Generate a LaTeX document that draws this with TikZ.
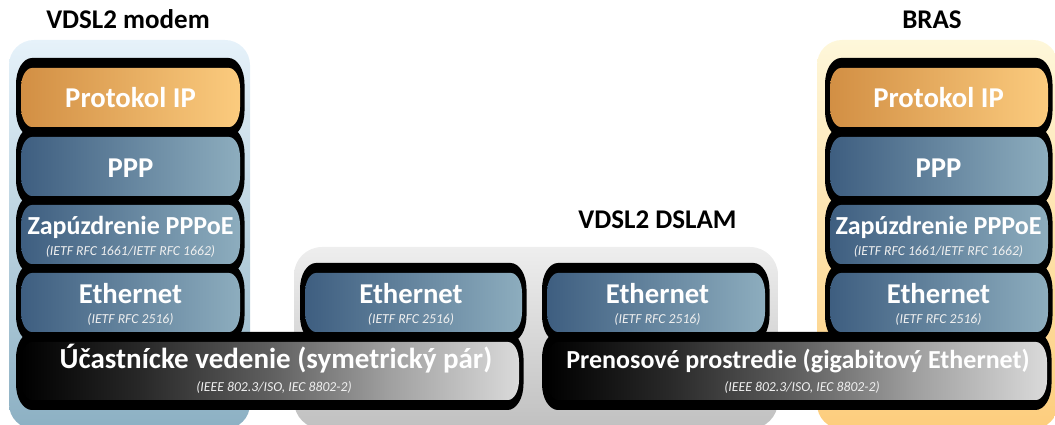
\documentclass[tikz,border=0pt]{standalone}
\usepackage{fontspec}
\setmainfont{Carlito}
\definecolor{orL}{RGB}{210,143,68}
\definecolor{orR}{RGB}{251,203,126}
\definecolor{blL}{RGB}{62,94,128}
\definecolor{blR}{RGB}{141,173,190}
\definecolor{bgbT}{RGB}{230,242,250}
\definecolor{bgbB}{RGB}{140,176,195}
\definecolor{bggT}{RGB}{238,238,238}
\definecolor{bggB}{RGB}{192,192,192}
\definecolor{bgoT}{RGB}{254,247,218}
\definecolor{bgoB}{RGB}{253,205,125}
\definecolor{phA}{RGB}{0,0,0}
\definecolor{phB}{RGB}{40,40,40}
\definecolor{phC}{RGB}{95,95,95}
\definecolor{phD}{RGB}{160,160,160}
\definecolor{phE}{RGB}{218,218,218}
\definecolor{subtext}{RGB}{240,240,240}
\pgfdeclarehorizontalshading{physshade}{100bp}{color(0bp)=(phA); color(25bp)=(phA); color(37bp)=(phB); color(50bp)=(phC); color(62bp)=(phD); color(75bp)=(phE); color(100bp)=(phE)}
% capsule-like shape with elliptical corners: x1, ytop, x2, ybot, rx, ry, options
\newcommand\capsule[7]{%
  \path[#7] (#1+#5,#2) -- (#3-#5,#2)
    arc[start angle=90,end angle=0,x radius=#5,y radius=#6] -- (#3,#4+#6)
    arc[start angle=0,end angle=-90,x radius=#5,y radius=#6] -- (#1+#5,#4)
    arc[start angle=270,end angle=180,x radius=#5,y radius=#6] -- (#1,#2-#6)
    arc[start angle=180,end angle=90,x radius=#5,y radius=#6] -- cycle;}
\newcommand\outerband[4]{\capsule{#1-5}{#2+10}{#3+4.5}{#4-10}{16}{26}{fill=black}}
\newcommand\innerband[5]{\capsule{#1}{#2}{#3}{#4}{11}{20}{#5}}
\begin{document}
\begin{tikzpicture}[x=1pt,y=1pt,
  every node/.style={inner sep=0pt},
  main/.style={font=\fontsize{28.7}{30}\selectfont\bfseries, anchor=base, text=white},
  mainsmall/.style={font=\fontsize{26}{28}\selectfont\bfseries, anchor=base, text=white},
  physleft/.style={font=\fontsize{29}{31}\selectfont\bfseries, anchor=base, text=white},
  physright/.style={font=\fontsize{26}{28}\selectfont\bfseries, anchor=base, text=white},
  sub/.style={font=\fontsize{13.7}{15}\selectfont\itshape, anchor=base, text=subtext},
  title/.style={font=\fontsize{27}{30}\selectfont\bfseries, anchor=base, text=black},
  orangefill/.style={left color=orL, right color=orR},
  bluefill/.style={left color=blL, right color=blR},
  physfill/.style={shading=physshade},
]
\useasboundingbox (0,0) rectangle (1055,425);
\clip (0,0) rectangle (1055,425);
% backgrounds
\shade[top color=bgbT, bottom color=bgbB, rounded corners=25pt] (9,-4) rectangle (250,385);
\shade[top color=bggT, bottom color=bggB, rounded corners=28pt] (294,-4) rectangle (778,178);
\shade[top color=bgoT, bottom color=bgoB, rounded corners=25pt] (817,-4) rectangle (1058,385);
% black outlines
\outerband{21}{357}{240}{298}
\outerband{21}{288}{240}{229}
\outerband{21}{220}{240}{161}
\outerband{21}{152}{240}{93}
\outerband{21}{83}{519}{25}
\outerband{305}{152}{522}{93}
\outerband{547}{152}{765}{93}
\outerband{547}{83}{1047}{25}
\outerband{830}{357}{1048}{298}
\outerband{830}{288}{1048}{229}
\outerband{830}{220}{1048}{161}
\outerband{830}{152}{1048}{93}
% coloured layers
\innerband{21}{357}{240}{298}{orangefill}
\innerband{21}{288}{240}{229}{bluefill}
\innerband{21}{220}{240}{161}{bluefill}
\innerband{21}{152}{240}{93}{bluefill}
\innerband{21}{83}{519}{25}{physfill}
\innerband{305}{152}{522}{93}{bluefill}
\innerband{547}{152}{765}{93}{bluefill}
\innerband{547}{83}{1047}{25}{physfill}
\innerband{830}{357}{1048}{298}{orangefill}
\innerband{830}{288}{1048}{229}{bluefill}
\innerband{830}{220}{1048}{161}{bluefill}
\innerband{830}{152}{1048}{93}{bluefill}
% titles
\node[title] (tmodem) at (128,396.7) {VDSL2 modem};
\node[title] (tbras) at (932,396.7) {BRAS};
\node[title] (tdslam) at (657.5,196) {VDSL2 DSLAM};
% modem texts
\node[main] (mip) at (130.5,317.3) {Protokol IP};
\node[main] (mppp) at (130.5,247.7) {PPP};
\node[mainsmall] (mpppoe) at (130.5,190.7) {Zapúzdrenie PPPoE};
\node[sub] (mpppoes) at (130.5,169.5) {(IETF RFC 1661/IETF RFC 1662)};
\node[main] (meth) at (130.5,121.5) {Ethernet};
\node[sub] (meths) at (130.5,101.5) {(IETF RFC 2516)};
\node[physleft] (mphys) at (276,56.7) {Účastnícke vedenie (symetrický pár)};
\node[sub] (mphyss) at (274,33.5) {(IEEE 802.3/ISO, IEC 8802-2)};
% DSLAM texts
\node[main] (deth1) at (411,121.5) {Ethernet};
\node[sub] (deth1s) at (411,101.5) {(IETF RFC 2516)};
\node[main] (deth2) at (657.5,121.5) {Ethernet};
\node[sub] (deth2s) at (657.5,101.5) {(IETF RFC 2516)};
\node[physright] (bphys) at (798,56.7) {Prenosové prostredie (gigabitový Ethernet)};
\node[sub] (bphyss) at (802,33.5) {(IEEE 802.3/ISO, IEC 8802-2)};
% BRAS texts
\node[main] (bip) at (938.5,317.3) {Protokol IP};
\node[main] (bppp) at (938.5,247.7) {PPP};
\node[mainsmall] (bpppoe) at (938.5,190.7) {Zapúzdrenie PPPoE};
\node[sub] (bpppoes) at (938.5,169.5) {(IETF RFC 1661/IETF RFC 1662)};
\node[main] (beth) at (938.5,121.5) {Ethernet};
\node[sub] (beths) at (938.5,101.5) {(IETF RFC 2516)};
\end{tikzpicture}
\end{document}
